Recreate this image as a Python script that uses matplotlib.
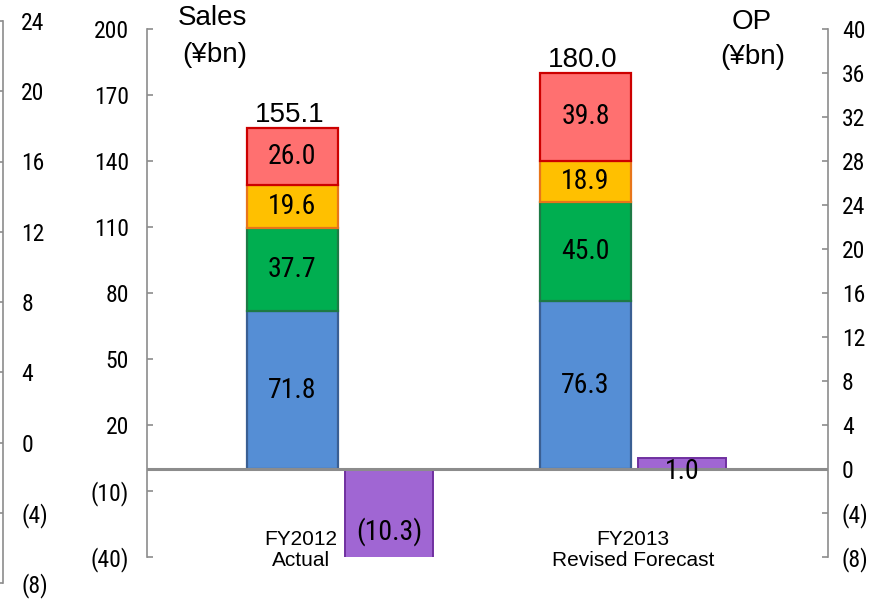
import matplotlib
matplotlib.use("Agg")
import matplotlib.pyplot as plt
from matplotlib import font_manager as fm
import numpy as np

# ---------------- data ----------------
categories = ["FY2012\nActual", "FY2013\nRevised Forecast"]
seg_blue = [71.8, 76.3]
seg_green = [37.7, 45.0]
seg_yellow = [19.6, 18.9]
seg_red = [26.0, 39.8]
sales_total = [155.1, 180.0]
op_values = [-10.3, 1.0]

sales_ticks = [-40, -10, 20, 50, 80, 110, 140, 170, 200]
op_ticks = [-8, -4, 0, 4, 8, 12, 16, 20, 24, 28, 32, 36, 40]
left_ticks = [-8, -4, 0, 4, 8, 12, 16, 20, 24]

# ---------------- fonts ----------------
avail = {f.name for f in fm.fontManager.ttflist}
narrow = None
for cand in ["Liberation Sans Narrow", "Arial Narrow", "Roboto Condensed",
             "Open Sans Condensed", "Noto Sans Condensed", "Liberation Sans"]:
    if cand in avail:
        narrow = cand
        break
regular = "Liberation Sans" if "Liberation Sans" in avail else "DejaVu Sans"
NARROW = [narrow or regular, "DejaVu Sans"]
REG = [regular, "DejaVu Sans"]
n_is_narrow = narrow not in (None, "Liberation Sans")
tick_fs = 17 if n_is_narrow else 15
val_fs = 20 if n_is_narrow else 17


def fmt(v):
    return f"({abs(v):g})" if v < 0 else f"{v:g}"


def fmt1(v):
    return f"({abs(v):.1f})" if v < 0 else f"{v:.1f}"


W, H = 877, 600
fig = plt.figure(figsize=(W / 100, H / 100), dpi=100)
fig.patch.set_facecolor("white")

spine_col = "#8c8c8c"

# ---- left-most stray axis ----
ax3 = fig.add_axes([3 / W, 1 - 583 / H, 14 / W, (583 - 21) / H])
ax3.set_ylim(-8, 24)
ax3.set_xticks([])
ax3.patch.set_alpha(0)
for s in ["top", "right", "bottom"]:
    ax3.spines[s].set_visible(False)
ax3.spines["left"].set_color(spine_col)
ax3.spines["left"].set_linewidth(1.2)
ax3.set_yticks(left_ticks)
ax3.set_yticklabels([fmt(v) for v in left_ticks], fontfamily=NARROW, fontsize=tick_fs)
ax3.tick_params(axis="y", direction="out", length=3, color=spine_col, width=1.2,
                left=True, right=False, labelleft=False, labelright=True, pad=0)
for lab in ax3.get_yticklabels(which="both"):
    lab.set_horizontalalignment("left")

# ---- main axes ----
L, R = 147 / W, 828 / W
B, T = 1 - 557 / H, 1 - 29 / H
ax = fig.add_axes([L, B, R - L, T - B])
ax2 = ax.twinx()

x = np.arange(len(categories))
off = 0.1647
w_s, w_o = 0.31, 0.30

edge_w = 1.6
layers = [
    (seg_blue, "#558ed5", "#3a5f93"),
    (seg_green, "#00ae50", "#1d7a45"),
    (seg_yellow, "#ffc000", "#e8751a"),
    (seg_red, "#ff7070", "#cc0000"),
]
bottom = np.zeros(len(categories))
for vals, fc, ec in layers:
    vals = np.array(vals)
    bars = ax.bar(x - off, vals, w_s, bottom=bottom, color=fc, edgecolor=ec,
                  linewidth=edge_w, zorder=2)
    for b, v, b0 in zip(bars, vals, bottom):
        ax.text(b.get_x() + b.get_width() / 2, b0 + v / 2, f"{v:.1f}",
                ha="center", va="center", fontfamily=NARROW, fontsize=val_fs,
                color="black", zorder=5)
    bottom = bottom + vals

for xi, tot in zip(x, sales_total):
    ax.annotate(f"{tot:.1f}", (xi - off, tot), xytext=(-2, 0), textcoords="offset points",
                ha="center", va="bottom", fontfamily=REG, fontsize=20, color="black")

ax.set_xlim(-0.661, 1.663)
ax.set_ylim(-40, 200)
ax2.set_ylim(-8, 40)

obars = ax2.bar(x + off, op_values, w_o, color="#a066d3", edgecolor="#7030a0",
                linewidth=1.4, zorder=2)
for b, v in zip(obars, op_values):
    ypos = v / 2
    ax2.annotate(fmt1(v), (b.get_x() + b.get_width() / 2, ypos),
                 xytext=(0, -6 if v > 0 else -4), textcoords="offset points",
                 ha="center", va="center", fontfamily=NARROW, fontsize=val_fs,
                 color="black", zorder=5)

ax2.axhline(0, color="#8c8c8c", linewidth=2.2, zorder=4)

# category labels
label_x = [-0.136, -0.003]
for xi, lx, lab in zip(x, label_x, categories):
    ax.text(xi + lx, -36.8, lab, ha="center", va="center", multialignment="center",
            fontfamily=REG, fontsize=15, color="black", linespacing=1.15)

# axes styling
ax.set_xticks([])
for a in (ax, ax2):
    a.spines["top"].set_visible(False)
    a.spines["bottom"].set_visible(False)
ax.spines["right"].set_visible(False)
ax2.spines["left"].set_visible(False)
ax.spines["left"].set_color(spine_col)
ax.spines["left"].set_linewidth(1.2)
ax2.spines["right"].set_color(spine_col)
ax2.spines["right"].set_linewidth(1.2)

ax.set_yticks(sales_ticks)
ax.set_yticklabels([fmt(v) for v in sales_ticks], fontfamily=NARROW, fontsize=tick_fs)
ax.tick_params(axis="y", direction="in", length=4, width=1.2, color=spine_col, pad=13)
ax2.set_yticks(op_ticks)
ax2.set_yticklabels([fmt(v) for v in op_ticks], fontfamily=NARROW, fontsize=tick_fs)
ax2.tick_params(axis="y", direction="in", length=4, width=1.2, color=spine_col, pad=10)

# unit titles
fig.text(212 / W, 1 - 18 / H, "Sales", ha="center", va="center", fontfamily=REG, fontsize=20)
fig.text(215 / W, 1 - 55 / H, "(¥bn)", ha="center", va="center", fontfamily=REG, fontsize=20)
fig.text(752 / W, 1 - 22 / H, "OP", ha="center", va="center", fontfamily=REG, fontsize=20)
fig.text(753 / W, 1 - 57 / H, "(¥bn)", ha="center", va="center", fontfamily=REG, fontsize=20)

fig.savefig("out.png", dpi=100, facecolor="white")
